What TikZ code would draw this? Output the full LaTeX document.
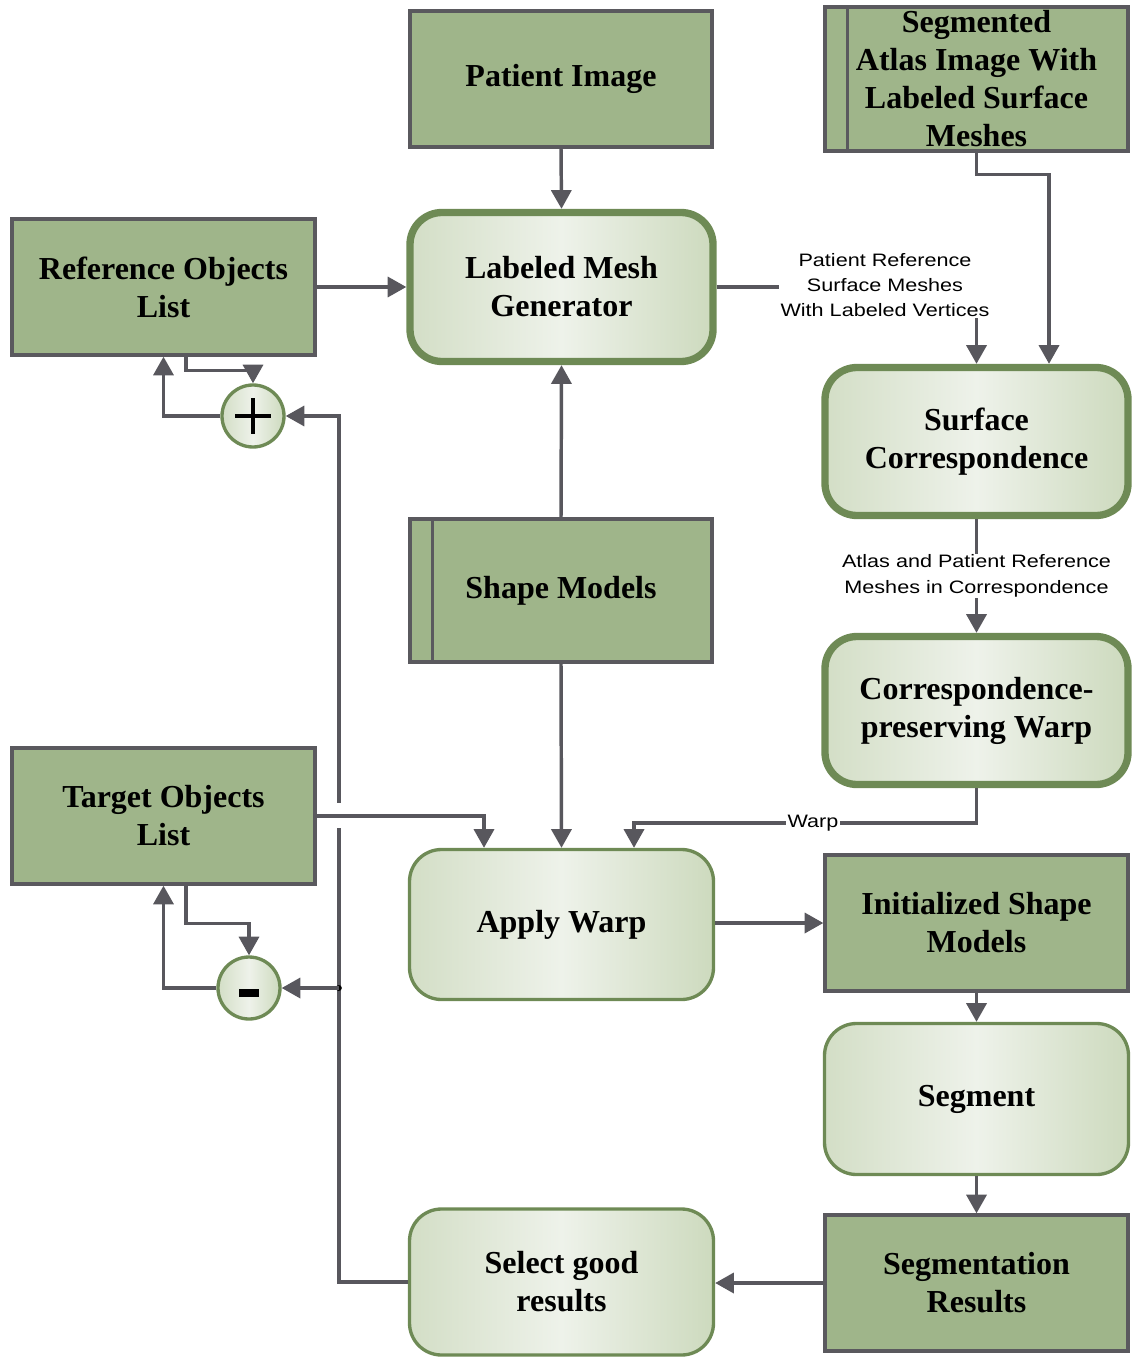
\documentclass[tikz,border=0pt]{standalone}
\usepackage{fontspec}
\setmainfont{Liberation Serif}
\newfontfamily\labfont[FakeStretch=1.2]{Liberation Sans}
\usetikzlibrary{arrows.meta,calc}
\definecolor{boxgreen}{HTML}{9FB58A}
\definecolor{boxborder}{HTML}{5A595E}
\definecolor{procborder}{HTML}{6E8A55}
\definecolor{gradl}{HTML}{D3DEC6}
\definecolor{gradm}{HTML}{EEF2EA}
\definecolor{gradr}{HTML}{CDDABE}
\definecolor{conngray}{HTML}{58575D}
\tikzset{
  datbox/.style={draw=boxborder, line width=2.5pt, fill=boxgreen, align=center,
    inner sep=0pt, font=\bfseries\fontsize{24}{28.5}\selectfont},
  proc/.style={draw=procborder, rounded corners=24pt, left color=gradl, right color=gradr,
    middle color=gradm, align=center, inner sep=0pt,
    font=\bfseries\fontsize{24}{28.5}\selectfont},
  procthick/.style={proc, line width=5.5pt},
  procthin/.style={proc, line width=2.5pt},
  conn/.style={draw=conngray, line width=2.6pt, -{Triangle[length=14pt,width=15pt]}},
  lab/.style={fill=white, inner sep=1pt, align=center, font=\labfont\fontsize{13.5}{19}\selectfont},
  sumnode/.style={circle, draw=procborder, line width=2.5pt, minimum size=46.5pt,
    left color=gradl, right color=gradr, middle color=gradm, inner sep=0pt}
}
\begin{document}
\begin{tikzpicture}[x=0.75pt,y=-0.75pt]
\useasboundingbox (0,0) rectangle (1134,1358);
% data boxes
\node[datbox, minimum width=226.5pt, minimum height=102pt] (pimg) at (561,79) {Patient Image};
\node[datbox, minimum width=227.25pt, minimum height=108pt] (atlas) at (976.5,79) {Segmented\\Atlas Image With\\Labeled Surface\\Meshes};
\draw[boxborder, line width=2.5pt] ($(atlas.north west)+(24,3)$) -- ($(atlas.south west)+(24,-3)$);
\node[datbox, minimum width=227.25pt, minimum height=102pt] (ref) at (163.5,287) {Reference Objects\\List};
\node[datbox, minimum width=226.5pt, minimum height=107.25pt] (shape) at (561,590.5) {Shape Models};
\draw[boxborder, line width=2.5pt] ($(shape.north west)+(24,3)$) -- ($(shape.south west)+(24,-3)$);
\node[datbox, minimum width=227.25pt, minimum height=102pt] (target) at (163.5,816) {Target Objects\\List};
\node[datbox, minimum width=227.25pt, minimum height=102pt] (ism) at (976.5,923) {Initialized Shape\\Models};
\node[datbox, minimum width=227.25pt, minimum height=102pt] (sr) at (976.5,1283) {Segmentation\\Results};
% process boxes
\node[procthick, minimum width=227.25pt, minimum height=111.75pt] (lmg) at (561.5,287) {Labeled Mesh\\Generator};
\node[procthick, minimum width=227.25pt, minimum height=111pt] (sc) at (976.5,441.5) {Surface\\Correspondence};
\node[procthick, minimum width=227.25pt, minimum height=111pt] (cpw) at (976.5,710.5) {Correspondence-\\preserving Warp};
\node[procthin, minimum width=228pt, minimum height=112.5pt] (aw) at (561.5,924.5) {Apply Warp};
\node[procthin, minimum width=228pt, minimum height=113.25pt] (seg) at (976.5,1099) {Segment};
\node[procthin, minimum width=228pt, minimum height=109.5pt] (sgr) at (561.5,1282) {Select good\\results};
% sum nodes
\node[sumnode, path picture={\draw[black, line width=3pt] ($(path picture bounding box.center)+(-18,0)$) -- ++(36,0) ($(path picture bounding box.center)+(0,-18)$) -- ++(0,36);}] (plus) at (253,416) {};
\node[sumnode, path picture={\fill[black] ($(path picture bounding box.center)+(-10,1)$) rectangle ++(20,8);}] (minus) at (249,988) {};
% connectors
\draw[conn] (pimg.south) -- (lmg.north);
\draw[conn] (ref.east) -- (ref.east -| lmg.west);
\draw[conn] (lmg.east) -| (sc.north);
\node[lab] (l1) at (885,285) {Patient Reference\\Surface Meshes\\With Labeled Vertices};
\draw[conn] (atlas.south) -- ++(0,22) -| ($(sc.north)+(72.5,0)$);
\draw[conn] (sc.south) -- (cpw.north) node[lab, midway] (l2) {Atlas and Patient Reference\\Meshes in Correspondence};
\draw[conn] (cpw.south) -- ++(0,35) -| ($(aw.north)+(72.5,0)$);
\node[lab] (l3) at (813,823) {Warp};
\draw[conn] (shape.north) -- (lmg.south);
\draw[conn] (shape.south) -- (aw.north);
\draw[conn] (ism.west -| aw.east) -- (ism.west);
\draw[conn] (ism.south) -- (seg.north);
\draw[conn] (seg.south) -- (sr.north);
\draw[conn] (sr.west) -- (sr.west -| sgr.east);
% feedback bus
\coordinate (bus) at ($(sgr.west)+(-69,0)$);
\draw[conn] (sgr.west) -- (bus) |- (plus.east);
\fill[black] (bus |- minus.east) circle (3);
\draw[conn] (bus |- minus.east) -- (minus.east);
\fill[white] ($(bus |- target.east)+(-6,-13)$) rectangle ++(12,25);
\draw[conn] (target.east) -| ($(aw.north)+(-77.5,0)$);
% sum loops
\draw[conn] ($(ref.south)+(22.5,0)$) -- ++(0,14) -| (plus.north);
\draw[conn] (plus.west) -| (ref.south);
\draw[conn] ($(target.south)+(22.5,0)$) -- ++(0,38) -| (minus.north);
\draw[conn] (minus.west) -| (target.south);
\end{tikzpicture}
\end{document}
